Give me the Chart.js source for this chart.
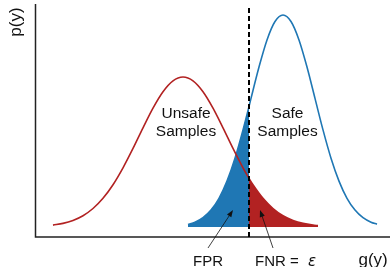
<!DOCTYPE html>
<html>
<head>
<meta charset="utf-8">
<script src="https://cdn.jsdelivr.net/npm/chart.js@4/dist/chart.umd.min.js"></script>
<style>
html,body{margin:0;padding:0;background:#fff;}
#c{display:block;}
</style>
</head>
<body>
<canvas id="c" width="390" height="267"></canvas>
<script>
// Unsafe samples density (red)
const redX = [17.5,27.5,37.5,47.5,57.5,67.5,77.5,87.5,97.5,107.5,117.5,127.5,137.5,147.5,157.5,167.5,177.5,187.5,197.5,207.5,213.5,217.5,227.5,237.5,247.5,257.5,267.5,277.5,282.5];
const redY = [11.9,13.6,16.6,21.3,28.5,38.7,52.3,69.2,88.6,109.2,128.9,145.3,156.2,160,156.2,145.3,128.9,109.2,88.6,69.2,58.7,52.3,38.7,28.5,21.3,16.6,13.6,11.9,11.4];
// Safe samples density (blue)
const blueX = [152.5,159.5,167.5,175.5,183.5,191.5,199.5,207.5,213.5,215.5,223.5,231.5,239.5,247.5,255.5,263.5,271.5,279.5,287.5,295.5,303.5,311.5,319.5,327.5,335.5,341.5];
const blueY = [12.6,14.8,19.3,26.9,38.7,55.9,78.8,107.1,130.5,138.6,170.0,197.1,215.5,222,215.5,197.1,170.0,138.6,107.1,78.8,55.9,38.7,26.9,19.3,14.8,12.8];
const threshold = 213.5;
const baseline = 10;

const BLUE = '#1f77b4';
const RED = '#b22222';

const red = redX.map((x,i)=>({x, y:redY[i]}));
const blue = blueX.map((x,i)=>({x, y:blueY[i]}));
const blueFill = blue.filter(p=>p.x<=threshold);
const redFill = red.filter(p=>p.x>=threshold);

const FONT = '"Liberation Sans", Arial, sans-serif';

const overlay = {
  id:'overlay',
  beforeDatasetsDraw(chart){
    const {ctx, chartArea:a} = chart;
    ctx.save();
    ctx.strokeStyle = '#222';
    ctx.lineWidth = 1.5;
    ctx.beginPath();
    ctx.moveTo(a.left, a.top);
    ctx.lineTo(a.left, a.bottom);
    ctx.lineTo(a.right, a.bottom);
    ctx.stroke();
    ctx.restore();
  },
  afterDraw(chart){
    const {ctx} = chart;
    const xs = chart.scales.x, ys = chart.scales.y;
    const X = v=>xs.getPixelForValue(v), Y = v=>ys.getPixelForValue(v);
    ctx.save();
    ctx.fillStyle = '#111';
    ctx.textAlign = 'center';
    ctx.textBaseline = 'alphabetic';
    ctx.font = '15.5px ' + FONT;
    ctx.fillText('Unsafe', X(150.5), Y(119));
    ctx.fillText('Samples', X(150.5), Y(101));
    ctx.fillText('Safe', X(252), Y(119));
    ctx.fillText('Samples', X(252), Y(101));
    // axis labels
    ctx.font = '17px ' + FONT;
    ctx.textAlign = 'left';
    ctx.fillText('g(y)', X(323), Y(-28));
    ctx.save();
    ctx.translate(16.5, 22);
    ctx.rotate(-Math.PI/2);
    ctx.textAlign = 'center';
    ctx.textBaseline = 'middle';
    ctx.fillText('p(y)', 0, 0);
    ctx.restore();
    // FPR / FNR labels
    ctx.font = '15px ' + FONT;
    ctx.textAlign = 'center';
    ctx.fillText('FPR', X(172.5), Y(-29));
    ctx.textAlign = 'left';
    ctx.fillText('FNR =', X(219.5), Y(-29));
    ctx.font = 'italic 15px "DejaVu Sans", sans-serif';
    ctx.fillText('\u03b5', X(272.5), Y(-29));
    // arrows
    function arrow(x0,y0,x1,y1){
      const px0=X(x0), py0=Y(y0), px1=X(x1), py1=Y(y1);
      const ang = Math.atan2(py1-py0, px1-px0);
      const L = 7, W = 2.6;
      ctx.strokeStyle = '#111';
      ctx.lineWidth = 0.8;
      ctx.beginPath();
      ctx.moveTo(px0,py0);
      ctx.lineTo(px1 - Math.cos(ang)*L*0.8, py1 - Math.sin(ang)*L*0.8);
      ctx.stroke();
      ctx.fillStyle = '#111';
      ctx.beginPath();
      ctx.moveTo(px1,py1);
      ctx.lineTo(px1 - Math.cos(ang)*L + Math.sin(ang)*W, py1 - Math.sin(ang)*L - Math.cos(ang)*W);
      ctx.lineTo(px1 - Math.cos(ang)*L - Math.sin(ang)*W, py1 - Math.sin(ang)*L + Math.cos(ang)*W);
      ctx.closePath();
      ctx.fill();
    }
    arrow(172.5, -11, 197.5, 27);
    arrow(237.5, -11, 224.5, 27);
    ctx.restore();
  }
};

new Chart(document.getElementById('c'), {
  type:'line',
  data:{
    datasets:[
      {data:[{x:threshold,y:0},{x:threshold,y:232}], borderColor:'#000', borderWidth:2, borderDash:[5,3], pointRadius:0, tension:0, fill:false, order:0},
      {data:red, borderColor:RED, borderWidth:1.6, pointRadius:0, cubicInterpolationMode:'monotone', fill:false, order:1},
      {data:blue, borderColor:BLUE, borderWidth:1.6, pointRadius:0, cubicInterpolationMode:'monotone', fill:false, order:1},
      {data:blueFill, borderWidth:0, borderColor:'rgba(0,0,0,0)', backgroundColor:BLUE, pointRadius:0, cubicInterpolationMode:'monotone', fill:{value:baseline}, order:2},
      {data:redFill, borderWidth:0, borderColor:'rgba(0,0,0,0)', backgroundColor:RED, pointRadius:0, cubicInterpolationMode:'monotone', fill:{value:baseline}, order:2}
    ]
  },
  options:{
    responsive:false,
    animation:false,
    devicePixelRatio:1,
    layout:{padding:{left:35.5, top:4, right:0, bottom:30}},
    plugins:{legend:{display:false}, tooltip:{enabled:false}},
    scales:{
      x:{type:'linear', min:0, max:354.5, display:false},
      y:{type:'linear', min:0, max:233, display:false}
    }
  },
  plugins:[overlay]
});
</script>
</body>
</html>
